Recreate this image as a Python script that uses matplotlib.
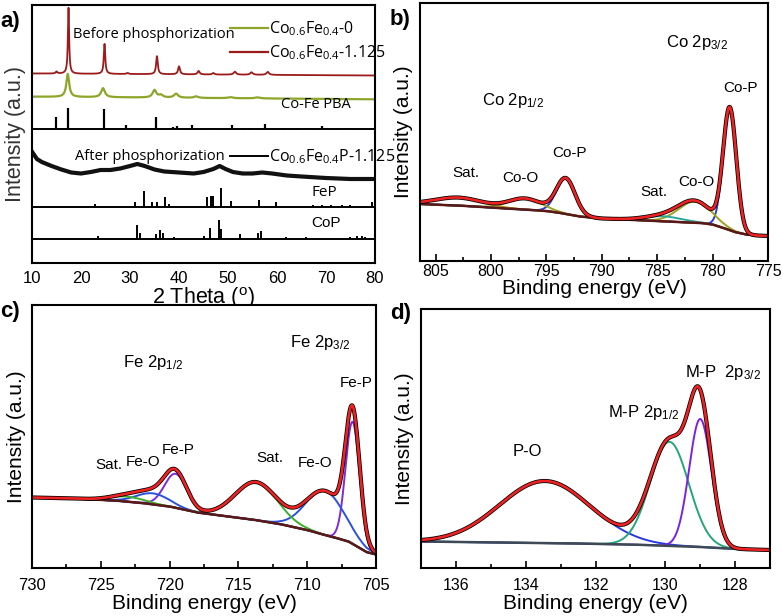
import numpy as np
import matplotlib.pyplot as plt
from matplotlib.lines import Line2D

plt.rcParams['font.family'] = ['Liberation Sans', 'DejaVu Sans']
plt.rcParams['mathtext.default'] = 'regular'

# ---------------- a) XRD (y = pixel height above axis bottom) ----------------
red_base = [189.5, 187.5]          # baseline at 10 and 80 deg
red_pos = [15.0, 17.45, 24.8, 29.5, 35.5, 40.0, 44.0, 47.0, 51.4, 54.8, 58.1]
red_hgt = [2, 66, 30, 1, 18, 8, 3.5, 1.5, 3, 2.5, 3]
red_wid = [0.4, 0.3, 0.35, 0.5, 0.4, 0.45, 0.5, 0.5, 0.6, 0.6, 0.6]

green_base = [166.3, 163.7]
green_pos = [17.3, 24.5, 35.0, 36.3, 39.4, 43.5, 50.5, 56.0]
green_hgt = [23, 9, 7.5, 2.5, 4, 1.5, 1, 1]
green_wid = [0.7, 0.9, 0.9, 1.0, 1.0, 1.0, 1.2, 1.2]

black_deg = [10, 11, 12, 13, 14, 16, 18, 20, 22, 24, 26, 28, 30, 31.5, 33, 35, 37,
             40, 43, 45, 47, 48.3, 49.5, 51, 53, 55, 57, 59, 62, 65, 70, 75, 80]
black_hgt = [111.3, 104, 101, 99, 97, 93.5, 90.5, 89.5, 91, 93, 93, 94.5, 97, 99, 97,
             93.5, 91.5, 90.5, 89.5, 91, 94, 97, 94, 91, 89.5, 89.5, 90.5, 89.5, 87.5,
             86.5, 85, 84, 84]

pba_pos = [15.0, 17.4, 24.7, 29.2, 30.6, 35.3, 38.7, 39.5, 42.7, 46.3, 50.8, 53.2, 54.2,
           57.6, 61.4, 64.1, 66.5, 69.2, 72.3, 75.0]
pba_hgt = [12, 21, 20, 4, 1.5, 12, 2, 3, 4, 1.5, 4, 1.5, 1.5, 5, 1, 1.5, 1.5, 3, 1, 1]

fep_pos = [22.9, 30.95, 32.8, 34.5, 35.5, 37.1, 37.9, 45.8, 46.5, 47.0, 48.5, 50.6, 56.3,
           59.8, 62.9, 64.3, 65.5, 67.4, 69.1, 70.4, 71.1, 72.5, 73.2, 74.9, 75.5, 79.3]
fep_hgt = [3, 5, 16, 5, 5, 10, 3, 10, 11, 11, 19, 6, 7, 5, 1.5, 1.5, 1.5, 2.5, 2,
           1.5, 2, 1.5, 2, 2, 1.5, 5]

cop_pos = [23.55, 31.4, 32.0, 35.3, 36.2, 36.8, 38.95, 45.1, 46.3, 48.2, 48.6, 52.4,
           56.1, 56.8, 61.9, 64.3, 66.0, 68.4, 69.2, 69.8, 74.9, 76.3, 77.3, 78.0]
cop_hgt = [3, 14, 6, 5, 9, 6, 2, 3, 11, 19, 10, 5, 6, 8, 2, 1.5, 2, 1.5, 1.5, 1.5,
           2, 3, 3, 2]

pba_line, fep_line, cop_line = 134, 56, 24

# ---------------- b) Co 2p ----------------
b_bg_ev = [806.4, 803, 800, 797, 795, 794, 793, 792, 790, 787, 784, 781, 780, 779,
           778, 777, 776, 775]
b_bg_h = [57, 55.5, 53.5, 51.5, 50, 48.5, 46.5, 44.5, 42.5, 41, 39.5, 38, 36.5, 33,
          29, 26.5, 25.5, 25]
b_cen = [778.45, 781.6, 784.5, 793.25, 796.9, 802.9]
b_amp = [121, 21, 5, 35.5, 11, 8]
b_fwhm = [1.4, 3.5, 4.0, 2.0, 3.5, 5.0]
b_col = ['#2b3bdc', '#9aa21f', '#2aa89a', '#2b3bdc', '#9aa21f', '#b09020']

# ---------------- c) Fe 2p ----------------
c_bg_ev = [730, 727, 724, 722, 720, 719, 718, 716, 714, 712, 710, 709, 708, 707,
           706.3, 705.7, 705]
c_bg_h = [70.5, 69.5, 67.5, 65, 61.5, 58.5, 55.5, 52, 48.5, 44, 38, 34, 30.5, 26.5,
          21, 16, 13.5]
c_cen = [706.7, 708.7, 713.7, 719.56, 721.2, 723.1]
c_amp = [122, 44, 38, 34, 11, 5]
c_fwhm = [1.2, 3.3, 3.6, 1.9, 2.8, 3.0]
c_col = ['#7b2be0', '#2a50e0', '#3cb02a', '#7b2be0', '#2a50e0', '#3cb02a']

# ---------------- d) P 2p ----------------
d_bg_ev = [137, 133, 131, 130, 129, 128, 127]
d_bg_h = [26.5, 24.8, 23.5, 22.3, 21, 19, 18]
d_cen = [133.45, 129.88, 129.0]
d_amp = [62, 104, 128]
d_fwhm = [3.06, 1.3, 0.75]
d_col = ['#2a3ae0', '#25a57a', '#7a22e0']


def lorentz(x, c, h, w):
    return h / (1 + ((x - c) / (w / 2)) ** 2)


def gauss(x, c, h, fwhm):
    return h * np.exp(-4 * np.log(2) * ((x - c) / fwhm) ** 2)


def xps(ax, bg_ev, bg_h, cen, amp, fwhm, cols, bg_col, lo, hi):
    x = np.linspace(lo, hi, 1500)
    bg = np.interp(x, bg_ev[::-1], bg_h[::-1])
    total = bg.copy()
    for c, a, w, col in zip(cen, amp, fwhm, cols):
        comp = gauss(x, c, a, w)
        total += comp
        ax.plot(x, bg + comp, color=col, lw=1.4)
    ax.plot(x, bg, color=bg_col, lw=1.8)
    ax.plot(x, total, color='black', lw=3.0)
    ax.plot(x, total, color='#ee2222', lw=1.9)


def style(ax, xl, hgt, fs, pad):
    ax.set_xlim(*xl)
    ax.set_ylim(0, hgt)
    ax.set_yticks([])
    for s in ax.spines.values():
        s.set_linewidth(1.5)
    ax.tick_params(axis='x', direction='in', length=5, width=1.2, labelsize=fs, pad=pad)
    ax.tick_params(axis='x', which='minor', direction='in', length=3, width=1.2)


fig = plt.figure(figsize=(7.82, 6.16), dpi=100)

# ---- a
axa = fig.add_axes([32 / 782, 1 - 263 / 616, 343 / 782, 258 / 616])
xg = np.linspace(10, 80, 3000)
yr = np.interp(xg, [10, 80], red_base) + sum(lorentz(xg, c, h, w) for c, h, w in zip(red_pos, red_hgt, red_wid))
yg = np.interp(xg, [10, 80], green_base) + sum(lorentz(xg, c, h, w) for c, h, w in zip(green_pos, green_hgt, green_wid))
axa.plot(xg, yr, color='#9b1b1b', lw=1.3)
axa.plot(xg, yg, color='#8da62a', lw=1.6)
axa.plot(black_deg, black_hgt, color='#111111', lw=3.0, solid_joinstyle='round')
axa.vlines(pba_pos, pba_line, np.array(pba_hgt) + pba_line, color='black', lw=1.6)
axa.vlines(fep_pos, fep_line, np.array(fep_hgt) + fep_line, color='black', lw=1.4)
axa.vlines(cop_pos, cop_line, np.array(cop_hgt) + cop_line, color='black', lw=1.4)
for yl in (pba_line, fep_line, cop_line):
    axa.axhline(yl, color='black', lw=1.4)
style(axa, (10, 80), 258, 12, 6)
axa.set_xticks(range(10, 81, 10))
axa.tick_params(axis='x', length=0)
axa.set_xlabel('2 Theta ($^o$)', fontsize=15.5, labelpad=-1)
axa.set_ylabel('Intensity (a.u.)', fontsize=15.5, color='#333333', labelpad=4)
fa = 'Open Sans'
axa.text(18.3, 228, 'Before phosphorization', fontsize=10.5, family=fa, va='center')
axa.text(18.8, 106, 'After phosphorization', fontsize=10.5, family=fa, va='center')
axa.text(60.9, 159, 'Co-Fe PBA', fontsize=10.5, family=fa, va='center')
axa.text(67.0, 70, 'FeP', fontsize=11, family=fa, va='center')
axa.text(67.0, 40, 'CoP', fontsize=11, va='center')
h1 = [Line2D([], [], color='#8da62a', lw=1.6), Line2D([], [], color='#9b1b1b', lw=1.6)]
lg1 = axa.legend(h1, ['Co$_{0.6}$Fe$_{0.4}$-0', 'Co$_{0.6}$Fe$_{0.4}$-1.125'],
                 loc='center left', bbox_to_anchor=((230 - 32) / 343, (263 - 41) / 258),
                 frameon=False, handlelength=2.4, handletextpad=0.05, borderpad=0,
                 borderaxespad=0, labelspacing=0.35, prop={'family': fa, 'size': 11.5})
axa.add_artist(lg1)
axa.legend([Line2D([], [], color='black', lw=1.4)], ['Co$_{0.6}$Fe$_{0.4}$P-1.125'],
           loc='center left', bbox_to_anchor=((230 - 32) / 343, (263 - 157) / 258),
           frameon=False, handlelength=2.4, handletextpad=0.05, borderpad=0,
           borderaxespad=0, prop={'family': fa, 'size': 11.5})

# ---- b
axb = fig.add_axes([420 / 782, 1 - 261 / 616, 348 / 782, 258 / 616])
xps(axb, b_bg_ev, b_bg_h, b_cen, b_amp, b_fwhm, b_col, '#5a1818', 806.4, 775)
style(axb, (806.4, 775), 258, 11.5, 2)
axb.set_xticks(range(805, 774, -5))
axb.set_xticks(np.arange(802.5, 775, -5), minor=True)
axb.set_xlabel('Binding energy (eV)', fontsize=15, labelpad=0)
axb.set_ylabel('Intensity (a.u.)', fontsize=15, labelpad=5)
axb.text(784.2, 218, 'Co 2p$_{3/2}$', fontsize=12, va='center')
axb.text(800.8, 161, 'Co 2p$_{1/2}$', fontsize=12, va='center')
for x, y, t in [(777.5, 173, 'Co-P'), (792.9, 108, 'Co-P'), (802.3, 88, 'Sat.'),
                (797.3, 83, 'Co-O'), (785.3, 69, 'Sat.'), (781.5, 79, 'Co-O')]:
    axb.text(x, y, t, fontsize=11, ha='center', va='center')

# ---- c
axc = fig.add_axes([32 / 782, 1 - 568 / 616, 344 / 782, 263 / 616])
xps(axc, c_bg_ev, c_bg_h, c_cen, c_amp, c_fwhm, c_col, '#5a1818', 730, 705)
style(axc, (730, 705), 263, 12, 7)
axc.set_xticks(range(730, 704, -5))
axc.set_xticks(np.arange(727.5, 705, -5), minor=True)
axc.set_xlabel('Binding energy (eV)', fontsize=15, labelpad=1)
axc.set_ylabel('Intensity (a.u.)', fontsize=15, labelpad=4)
axc.text(711.25, 226, 'Fe 2p$_{3/2}$', fontsize=12, va='center')
axc.text(723.4, 206, 'Fe 2p$_{1/2}$', fontsize=12, va='center')
for x, y, t in [(706.45, 185, 'Fe-P'), (719.4, 118, 'Fe-P'), (724.4, 103, 'Sat.'),
                (721.9, 106, 'Fe-O'), (712.7, 110, 'Sat.'), (709.4, 105, 'Fe-O')]:
    axc.text(x, y, t, fontsize=11, ha='center', va='center')

# ---- d
axd = fig.add_axes([421 / 782, 1 - 568 / 616, 349 / 782, 259 / 616])
xps(axd, d_bg_ev, d_bg_h, d_cen, d_amp, d_fwhm, d_col, '#3d4a55', 137, 127)
style(axd, (137, 127), 259, 11.5, 7)
axd.set_xticks(range(136, 127, -2))
axd.set_xticks(range(137, 127, -2), minor=True)
axd.set_xlabel('Binding energy (eV)', fontsize=15, labelpad=1)
axd.set_ylabel('Intensity (a.u.)', fontsize=15, labelpad=5)
axd.text(129.44, 196, 'M-P  2p$_{3/2}$', fontsize=12, va='center')
axd.text(131.63, 156, 'M-P 2p$_{1/2}$', fontsize=12, va='center')
axd.text(133.96, 116, 'P-O', fontsize=12, ha='center', va='center')

for t, x, y in [('a)', 0, 616 - 22), ('b)', 390, 616 - 20), ('c)', 0, 616 - 312), ('d)', 390, 616 - 314)]:
    fig.text(x / 782, y / 616, t, fontsize=16, fontweight='bold', va='center')

fig.savefig('out.png', dpi=100)
